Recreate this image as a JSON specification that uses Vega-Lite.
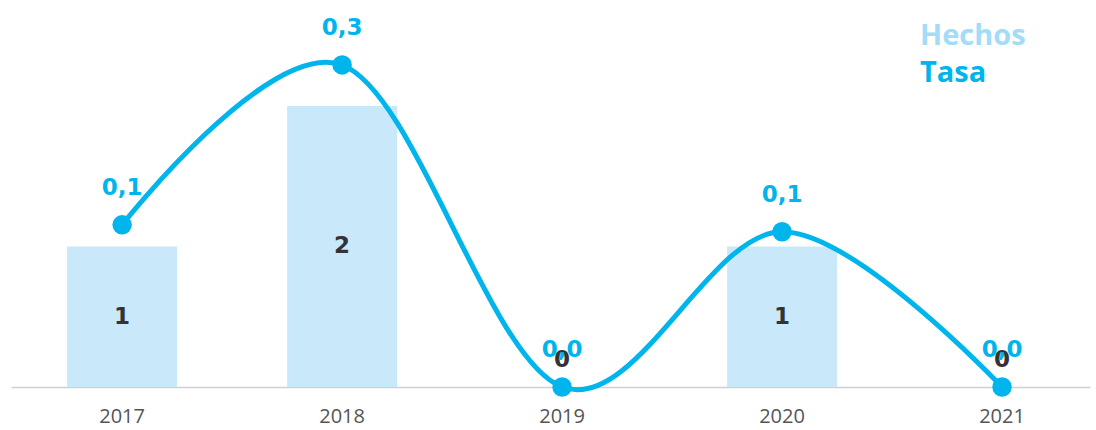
{
  "$schema": "https://vega.github.io/schema/vega-lite/v6.json",
  "autosize": "none",
  "width": 1079,
  "height": 377,
  "padding": {"left": 11, "top": 10, "right": 6, "bottom": 43},
  "config": {"view": {"stroke": null}, "font": "Open Sans"},
  "data": {"values": [
    {"anio": "2017", "hechos": 1, "tasa": 0.141, "tasaTxt": "0,1"},
    {"anio": "2018", "hechos": 2, "tasa": 0.28, "tasaTxt": "0,3"},
    {"anio": "2019", "hechos": 0, "tasa": 0.0, "tasaTxt": "0,0"},
    {"anio": "2020", "hechos": 1, "tasa": 0.135, "tasaTxt": "0,1"},
    {"anio": "2021", "hechos": 0, "tasa": 0.0, "tasaTxt": "0,0"}
  ]},
  "encoding": {
    "x": {
      "field": "anio", "type": "ordinal",
      "scale": {"paddingInner": 0.5, "paddingOuter": 0.2025, "align": 0.63},
      "axis": {"title": null, "ticks": false, "grid": false, "labelAngle": 0,
               "domainColor": "#d0d0d0", "domainWidth": 1.5, "labelColor": "#555555",
               "labelFontSize": 20, "labelPadding": 19, "labelFont": "Open Sans"}
    }
  },
  "layer": [
    {
      "layer": [
        {
          "mark": {"type": "bar", "color": "#c9e9fb"},
          "encoding": {
            "y": {"field": "hechos", "type": "quantitative", "scale": {"domain": [0, 2.683], "nice": false}, "axis": null},
            "color": {"datum": "Hechos", "type": "nominal",
              "scale": {"domain": ["Hechos", "Tasa"], "range": ["#c9e9fb", "#00b5ec"]},
              "legend": {"title": null, "orient": "none", "legendX": 880, "legendY": 11.5,
                "symbolOpacity": 0, "symbolSize": 0, "symbolStrokeWidth": 0, "labelOffset": 0,
                "labelFontSize": 29, "labelFontWeight": "bold", "labelFont": "Open Sans", "rowPadding": 7, "labelLimit": 300,
                "encode": {"labels": {"update": {"fill": {"signal": "datum.value === 'Hechos' ? '#a3dcf8' : '#00b5ec'"}}}}}
            }
          }
        },
        {
          "transform": [{"calculate": "max(datum.hechos / 2, 0.19)", "as": "posEtiqueta"}],
          "mark": {"type": "text", "color": "#333333", "fontSize": 23, "fontWeight": "bold", "font": "DejaVu Sans", "baseline": "middle"},
          "encoding": {
            "y": {"field": "posEtiqueta", "type": "quantitative", "scale": {"domain": [0, 2.683], "nice": false}, "axis": null},
            "text": {"field": "hechos", "type": "quantitative"}
          }
        }
      ]
    },
    {
      "layer": [
        {
          "mark": {"type": "line", "interpolate": "cardinal", "strokeWidth": 5},
          "encoding": {
            "y": {"field": "tasa", "type": "quantitative", "scale": {"domain": [0, 0.3278], "nice": false}, "axis": null},
            "color": {"datum": "Tasa", "type": "nominal"}
          }
        },
        {
          "mark": {"type": "point", "filled": true, "size": 380, "opacity": 1, "color": "#00b5ec"},
          "encoding": {
            "y": {"field": "tasa", "type": "quantitative", "scale": {"domain": [0, 0.3278], "nice": false}, "axis": null}
          }
        },
        {
          "mark": {"type": "text", "color": "#00b5ec", "fontSize": 23, "fontWeight": "bold", "font": "DejaVu Sans", "dy": -37, "baseline": "middle"},
          "encoding": {
            "y": {"field": "tasa", "type": "quantitative", "scale": {"domain": [0, 0.3278], "nice": false}, "axis": null},
            "text": {"field": "tasaTxt", "type": "nominal"}
          }
        }
      ]
    }
  ],
  "resolve": {"scale": {"y": "independent"}}
}
